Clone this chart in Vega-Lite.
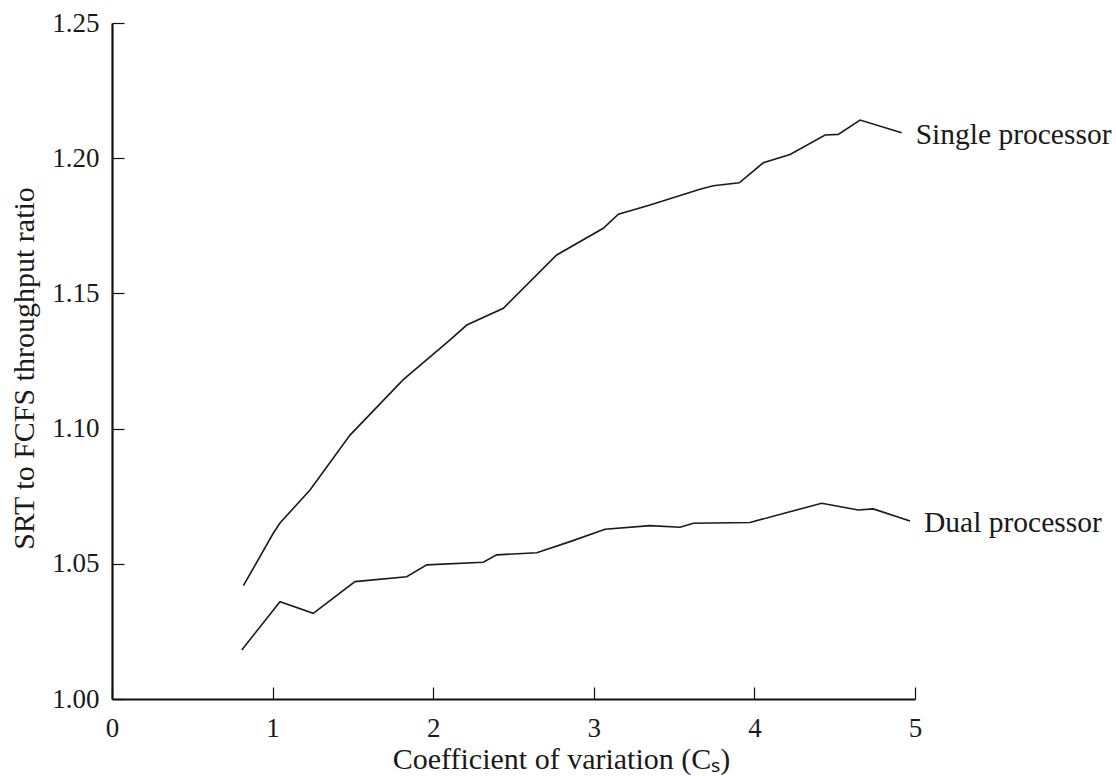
{
  "$schema": "https://vega.github.io/schema/vega-lite/v6.json",
  "width": 803,
  "height": 676,
  "autosize": {"type": "none"},
  "padding": {"left": 112, "top": 23, "right": 201, "bottom": 77},
  "background": "white",
  "config": {
    "view": {"stroke": null},
    "font": "Liberation Serif",
    "axis": {
      "grid": false,
      "domainColor": "#111111",
      "domainWidth": 2.2,
      "tickColor": "#111111",
      "tickWidth": 1.2,
      "tickSize": -12,
      "labelColor": "#1a1a1a",
      "labelFont": "Liberation Serif",
      "labelFontSize": 27,
      "labelOverlap": false,
      "labelFlush": false,
      "labelBound": false,
      "titleColor": "#1a1a1a",
      "titleFont": "Liberation Serif",
      "titleFontSize": 30,
      "titleFontWeight": "normal"
    }
  },
  "datasets": {
    "curves": [
      {"series": "Single processor", "cv": 0.818, "ratio": 1.0419},
      {"series": "Single processor", "cv": 1.004, "ratio": 1.0613},
      {"series": "Single processor", "cv": 1.046, "ratio": 1.0651},
      {"series": "Single processor", "cv": 1.233, "ratio": 1.0773},
      {"series": "Single processor", "cv": 1.482, "ratio": 1.0976},
      {"series": "Single processor", "cv": 1.812, "ratio": 1.1180},
      {"series": "Single processor", "cv": 2.105, "ratio": 1.1328},
      {"series": "Single processor", "cv": 2.209, "ratio": 1.1383},
      {"series": "Single processor", "cv": 2.437, "ratio": 1.1445},
      {"series": "Single processor", "cv": 2.769, "ratio": 1.1642},
      {"series": "Single processor", "cv": 3.059, "ratio": 1.1741},
      {"series": "Single processor", "cv": 3.153, "ratio": 1.1793},
      {"series": "Single processor", "cv": 3.350, "ratio": 1.1827},
      {"series": "Single processor", "cv": 3.661, "ratio": 1.1885},
      {"series": "Single processor", "cv": 3.744, "ratio": 1.1898},
      {"series": "Single processor", "cv": 3.906, "ratio": 1.1909},
      {"series": "Single processor", "cv": 4.055, "ratio": 1.1983},
      {"series": "Single processor", "cv": 4.222, "ratio": 1.2014},
      {"series": "Single processor", "cv": 4.440, "ratio": 1.2086},
      {"series": "Single processor", "cv": 4.522, "ratio": 1.2088},
      {"series": "Single processor", "cv": 4.658, "ratio": 1.2141},
      {"series": "Single processor", "cv": 4.917, "ratio": 1.2094},
      {"series": "Dual processor", "cv": 0.808, "ratio": 1.0181},
      {"series": "Dual processor", "cv": 1.046, "ratio": 1.0360},
      {"series": "Dual processor", "cv": 1.253, "ratio": 1.0317},
      {"series": "Dual processor", "cv": 1.513, "ratio": 1.0434},
      {"series": "Dual processor", "cv": 1.835, "ratio": 1.0452},
      {"series": "Dual processor", "cv": 1.960, "ratio": 1.0496},
      {"series": "Dual processor", "cv": 2.312, "ratio": 1.0506},
      {"series": "Dual processor", "cv": 2.395, "ratio": 1.0533},
      {"series": "Dual processor", "cv": 2.645, "ratio": 1.0541},
      {"series": "Dual processor", "cv": 2.852, "ratio": 1.0582},
      {"series": "Dual processor", "cv": 3.070, "ratio": 1.0628},
      {"series": "Dual processor", "cv": 3.350, "ratio": 1.0641},
      {"series": "Dual processor", "cv": 3.537, "ratio": 1.0635},
      {"series": "Dual processor", "cv": 3.620, "ratio": 1.0650},
      {"series": "Dual processor", "cv": 3.973, "ratio": 1.0653},
      {"series": "Dual processor", "cv": 4.419, "ratio": 1.0724},
      {"series": "Dual processor", "cv": 4.647, "ratio": 1.0699},
      {"series": "Dual processor", "cv": 4.740, "ratio": 1.0703},
      {"series": "Dual processor", "cv": 4.969, "ratio": 1.0658}
    ]
  },
  "layer": [
    {
      "data": {"name": "curves"},
      "mark": {"type": "line", "color": "#1a1a1a", "strokeWidth": 1.6},
      "encoding": {
        "x": {
          "field": "cv",
          "type": "quantitative",
          "scale": {"domain": [0, 5], "nice": false, "zero": false},
          "axis": {
            "values": [0, 1, 2, 3, 4, 5],
            "format": "d",
            "labelPadding": 28,
            "title": "Coefficient of variation (Cₛ)",
            "titleX": 449,
            "titleY": 60,
            "titleAlign": "center",
            "titleBaseline": "middle"
          }
        },
        "y": {
          "field": "ratio",
          "type": "quantitative",
          "scale": {"domain": [1, 1.25], "nice": false, "zero": false},
          "axis": {
            "values": [1, 1.05, 1.1, 1.15, 1.2, 1.25],
            "format": ".2f",
            "labelPadding": 25,
            "title": "SRT to FCFS throughput ratio",
            "titleX": -88,
            "titleY": 345,
            "titleAlign": "center",
            "titleBaseline": "middle",
            "titleAngle": -90
          }
        },
        "detail": {"field": "series", "type": "nominal"},
        "order": {"field": "cv", "type": "quantitative"}
      }
    },
    {
      "data": {"name": "curves"},
      "transform": [
        {"window": [{"op": "row_number", "as": "r"}], "sort": [{"field": "cv", "order": "descending"}], "groupby": ["series"]},
        {"filter": "datum.r === 1"}
      ],
      "mark": {"type": "text", "align": "left", "baseline": "middle", "dx": 14, "dy": 2, "fontSize": 29.5, "font": "Liberation Serif", "color": "#1a1a1a"},
      "encoding": {
        "x": {"field": "cv", "type": "quantitative"},
        "y": {"field": "ratio", "type": "quantitative"},
        "text": {"field": "series"}
      }
    }
  ]
}
